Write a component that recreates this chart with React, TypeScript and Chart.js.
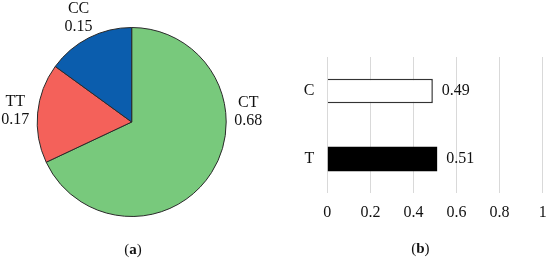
import React, { useEffect, useRef } from 'react';
import { Chart, registerables } from 'chart.js';

Chart.register(...registerables);

// ---- data ----
const genotypeLabels = ['CT', 'TT', 'CC'];
const genotypeValues = [0.68, 0.17, 0.15];
const alleleLabels = ['C', 'T'];
const alleleValues = [0.49, 0.51];
const xTickValues = [0, 0.2, 0.4, 0.6, 0.8, 1];

const FONT = '"Liberation Serif", "Times New Roman", serif';
const TEXT = '#111111';

const pieLabelPlugin = {
  id: 'pieLabels',
  afterDatasetsDraw(chart: any, _args: any, opts: any) {
    const meta = chart.getDatasetMeta(0);
    const ctx = chart.ctx;
    const values = chart.data.datasets[0].data;
    ctx.save();
    ctx.font = `16px ${FONT}`;
    ctx.fillStyle = TEXT;
    ctx.textAlign = 'center';
    ctx.textBaseline = 'middle';
    meta.data.forEach((arc: any, i: number) => {
      const p = arc.getProps(['x', 'y', 'startAngle', 'endAngle', 'outerRadius'], true);
      let angle = (p.startAngle + p.endAngle) / 2;
      const ov = opts.angleOverride ? opts.angleOverride[i] : undefined;
      if (ov !== undefined) angle = ov;
      const d = p.outerRadius + opts.distance;
      const cx = p.x + Math.cos(angle) * d;
      const cy = p.y + Math.sin(angle) * d;
      ctx.fillText(String(chart.data.labels[i]), cx, cy - 9);
      ctx.fillText(Number(values[i]).toFixed(2), cx, cy + 9);
    });
    ctx.restore();
  },
};

const barLabelPlugin = {
  id: 'barLabels',
  afterDatasetsDraw(chart: any, _args: any, opts: any) {
    const meta = chart.getDatasetMeta(0);
    const ctx = chart.ctx;
    const values = chart.data.datasets[0].data;
    ctx.save();
    ctx.font = `16px ${FONT}`;
    ctx.fillStyle = TEXT;
    ctx.textAlign = 'left';
    ctx.textBaseline = 'middle';
    meta.data.forEach((bar: any, i: number) => {
      const p = bar.getProps(['x', 'y'], true);
      ctx.fillText(Number(values[i]).toFixed(2), p.x + opts.offset, p.y);
    });
    ctx.restore();
  },
};

export default function App() {
  const pieRef = useRef<HTMLCanvasElement | null>(null);
  const barRef = useRef<HTMLCanvasElement | null>(null);

  useEffect(() => {
    const pie = new Chart(pieRef.current as HTMLCanvasElement, {
      type: 'pie',
      data: {
        labels: genotypeLabels,
        datasets: [
          {
            data: genotypeValues,
            backgroundColor: ['#78C97C', '#F4615A', '#0B5DAD'],
            borderColor: '#2a2a2a',
            borderWidth: 1,
          },
        ],
      },
      options: {
        animation: false,
        responsive: false,
        layout: { padding: { left: 36.7, right: 48.3, top: 27, bottom: 42 } },
        plugins: {
          legend: { display: false },
          tooltip: { enabled: false },
          pieLabels: { distance: 22.5, angleOverride: { 0: (-5 * Math.PI) / 180 } },
        } as any,
      },
      plugins: [pieLabelPlugin],
    });

    const bar = new Chart(barRef.current as HTMLCanvasElement, {
      type: 'bar',
      data: {
        labels: alleleLabels,
        datasets: [
          {
            data: alleleValues,
            backgroundColor: ['#ffffff', '#000000'],
            borderColor: ['#333333', '#000000'],
            borderWidth: [1.5, 0],
            categoryPercentage: 1,
            barPercentage: 0.36,
          },
        ],
      },
      options: {
        indexAxis: 'y',
        animation: false,
        responsive: false,
        layout: { padding: { top: 57, right: 7.3, bottom: 0, left: 0 } },
        plugins: {
          legend: { display: false },
          tooltip: { enabled: false },
          barLabels: { offset: 9 },
        } as any,
        scales: {
          x: {
            min: 0,
            max: 1,
            afterBuildTicks: (s: any) => {
              s.ticks = xTickValues.map((v) => ({ value: v }));
            },
            afterFit: (s: any) => {
              s.height = 66;
              s.paddingLeft = 0;
              s.paddingRight = 0;
            },
            ticks: {
              padding: 10,
              color: TEXT,
              font: { family: FONT, size: 16 },
              callback: (v: any) => String(v),
            },
            grid: { color: '#d9d9d9', drawTicks: false, lineWidth: 1 },
            border: { display: false },
          },
          y: {
            afterFit: (s: any) => {
              s.width = 52.3;
            },
            ticks: { padding: 13, color: TEXT, font: { family: FONT, size: 16 } },
            grid: { display: false, drawTicks: false },
            border: { display: false },
          },
        },
      },
      plugins: [barLabelPlugin],
    });

    return () => {
      pie.destroy();
      bar.destroy();
    };
  }, []);

  const caption: React.CSSProperties = {
    position: 'absolute',
    transform: 'translate(-50%, -50%)',
    fontFamily: FONT,
    fontSize: 15,
    lineHeight: 1,
    color: TEXT,
    whiteSpace: 'nowrap',
  };

  return (
    <div style={{ position: 'fixed', left: 0, top: 0, width: 550, height: 259, background: '#fff' }}>
      <canvas
        ref={pieRef}
        width={275}
        height={259}
        style={{ position: 'absolute', left: 0, top: 0, width: 275, height: 259 }}
      />
      <canvas
        ref={barRef}
        width={275}
        height={259}
        style={{ position: 'absolute', left: 275, top: 0, width: 275, height: 259 }}
      />
      <span style={{ ...caption, left: 133, top: 248.5 }}>
        (<b>a</b>)
      </span>
      <span style={{ ...caption, left: 420.3, top: 248 }}>
        (<b>b</b>)
      </span>
    </div>
  );
}
